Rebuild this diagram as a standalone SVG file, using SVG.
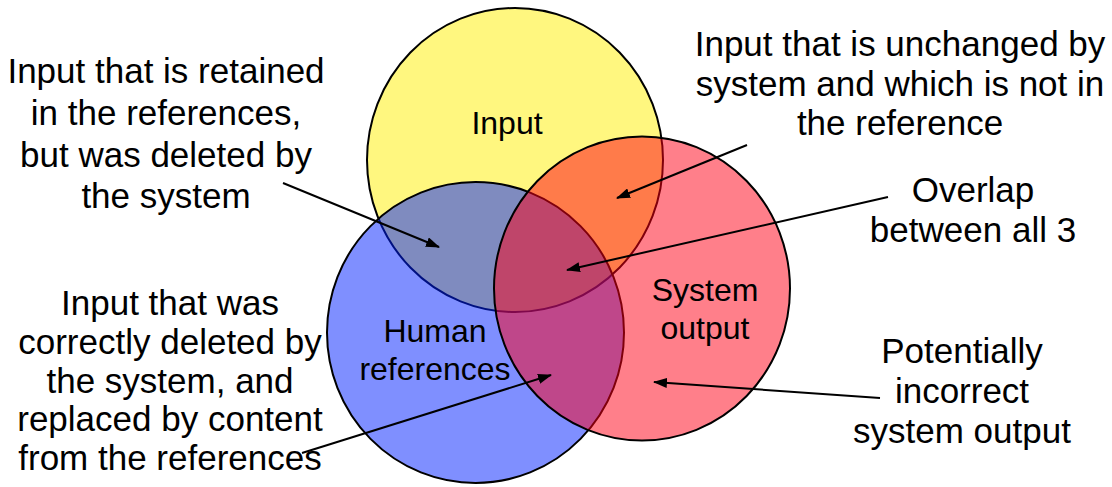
<svg xmlns="http://www.w3.org/2000/svg" width="1112" height="487" viewBox="0 0 1112 487">
<style>
.t{font-family:"Liberation Sans",Arial,Helvetica,sans-serif;fill:#000;text-anchor:middle}
.side{font-size:35px}
.lab{font-size:32px}
.c{stroke:#000;stroke-width:2}
.arr{stroke:#000;stroke-width:2;fill:none;marker-end:url(#ah)}
</style>
<defs>
<marker id="ah" viewBox="0 0 14 10" refX="13" refY="5" markerWidth="14" markerHeight="10" markerUnits="userSpaceOnUse" orient="auto">
<path d="M0,0 L14,5 L0,10 Z" fill="#000"/>
</marker>
</defs>
<rect width="1112" height="487" fill="#fff"/>
<g id="input">
<ellipse class="c" cx="515" cy="160" rx="148" ry="152" fill="#FFF77F"/>
<text class="t lab" x="507" y="134">Input</text>
</g>
<g id="human-references">
<ellipse class="c" cx="475.5" cy="332.5" rx="148.5" ry="150.5" fill="#0020FF" fill-opacity="0.5"/>
<text class="t lab" x="435" y="342">Human</text>
<text class="t lab" x="435" y="380">references</text>
</g>
<g id="system-output">
<ellipse class="c" cx="642" cy="288.5" rx="148" ry="152" fill="#FF0016" fill-opacity="0.5"/>
<text class="t lab" x="705" y="301">System</text>
<text class="t lab" x="705" y="339">output</text>
</g>
<g id="label-retained">
<text class="t side" x="166" y="83">Input that is retained</text>
<text class="t side" x="166" y="125">in the references,</text>
<text class="t side" x="166" y="167">but was deleted by</text>
<text class="t side" x="166" y="208">the system</text>
</g>
<g id="label-unchanged">
<text class="t side" x="900" y="56">Input that is unchanged by</text>
<text class="t side" x="900" y="96">system and which is not in</text>
<text class="t side" x="900" y="135">the reference</text>
</g>
<g id="label-overlap">
<text class="t side" x="973" y="202">Overlap</text>
<text class="t side" x="973" y="242">between all 3</text>
</g>
<g id="label-deleted">
<text class="t side" x="170" y="315">Input that was</text>
<text class="t side" x="170" y="354">correctly deleted by</text>
<text class="t side" x="170" y="393">the system, and</text>
<text class="t side" x="170" y="431">replaced by content</text>
<text class="t side" x="170" y="470">from the references</text>
</g>
<g id="label-incorrect">
<text class="t side" x="962" y="363">Potentially</text>
<text class="t side" x="962" y="403">incorrect</text>
<text class="t side" x="962" y="443">system output</text>
</g>
<g id="connectors">
<line class="arr" x1="283" y1="183" x2="439" y2="247"/>
<line class="arr" x1="747" y1="145" x2="617" y2="198"/>
<line class="arr" x1="888" y1="197" x2="567" y2="270"/>
<line class="arr" x1="302" y1="453" x2="551" y2="375"/>
<line class="arr" x1="880" y1="398" x2="654" y2="382"/>
</g>
</svg>
